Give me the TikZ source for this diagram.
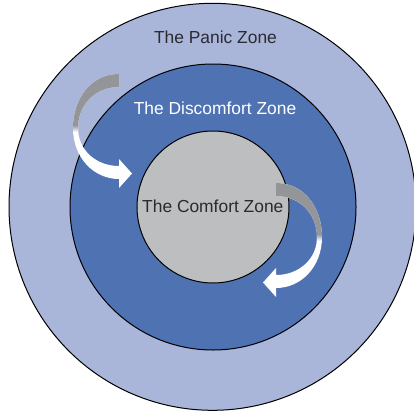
\documentclass[tikz,border=0pt]{standalone}
\usepackage{fontspec}
\setmainfont{Liberation Sans}
\definecolor{panicfill}{HTML}{A9B6DA}
\definecolor{discomfortfill}{HTML}{4F72B3}
\definecolor{comfortfill}{HTML}{BDBEC0}
\definecolor{tailgray}{HTML}{939598}
\definecolor{darktext}{HTML}{2A2A30}
\begin{document}
\begin{tikzpicture}[x=1pt,y=1pt,
  zone/.style={circle, draw=black, line width=1pt, inner sep=0pt},
  zonelabel/.style={font=\fontsize{17.4}{20}\selectfont, anchor=base, inner sep=0pt},
  arrowpath/.style={insert path={
      (0,0) .. controls (-29,0) and (-46,-26) .. (-46,-54)
      .. controls (-46,-84) and (-25,-105) .. (0,-105)
      -- (0,-114) -- (13,-99.5) -- (0,-85) -- (0,-92)
      .. controls (-23,-92) and (-41,-76) .. (-41,-54)
      .. controls (-41,-31) and (-24,-13) .. (0,-13) -- cycle}},
  zonearrow/.pic={
    \fill[white, arrowpath];
    \begin{scope}
      \clip[arrowpath];
      \fill[tailgray] (-60,5) rectangle (20,-51);
      \shade[top color=tailgray, bottom color=white] (-60,-51) rectangle (20,-58);
    \end{scope}
  }]
\useasboundingbox (0,0) rectangle (414,-412);
\fill[white] (0,0) rectangle (414,-412);
\begin{scope}
\clip (0,0) rectangle (414,-412);
\node[zone, fill=panicfill, minimum size=407pt] (panic) at (212.5,-206.8) {};
\node[zone, fill=discomfortfill, minimum size=286pt] (discomfort) at (213,-207) {};
\node[zone, fill=comfortfill, minimum size=152pt] (comfort) at (213,-207) {};
\end{scope}
\node[zonelabel, text=darktext] (paniclabel) at (215.5,-43.3) {The Panic Zone};
\node[zonelabel, text=white] (discomfortlabel) at (215,-114.7) {The Discomfort Zone};
\node[zonelabel, text=darktext] (comfortlabel) at (212.8,-212) {The Comfort Zone};
\pic at (119,-74) {zonearrow};
\pic[xscale=-1] at (276,-183) {zonearrow};
\end{tikzpicture}
\end{document}
